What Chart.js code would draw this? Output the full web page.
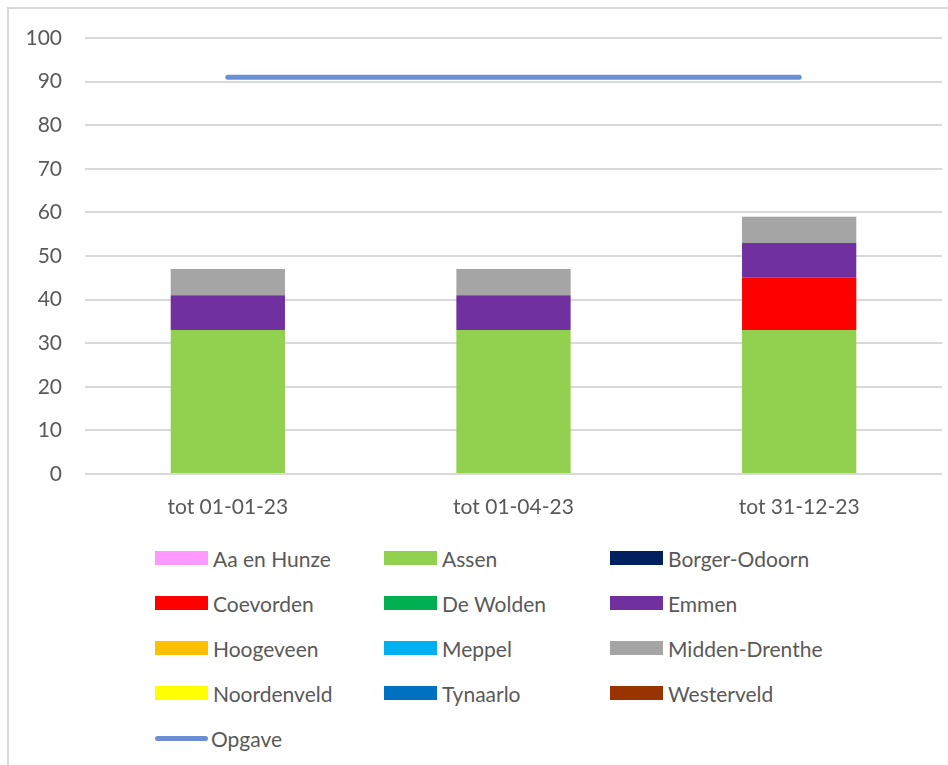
<!DOCTYPE html>
<html lang="nl">
<head>
  <meta charset="UTF-8">
  <title>Opgave per gemeente</title>
  <script src="https://cdn.jsdelivr.net/npm/chart.js"></script>
  <style>
    body { margin: 0; background: #fff; overflow: hidden; }
    .kader { position: absolute; left: 7px; top: 7px; width: 1000px; height: 1000px; border: 2px solid #d9d9d9; }
    #grafiek { position: absolute; left: 0; top: 0; }
    .legenda { position: absolute; left: 0; top: 0; font-family: Lato, sans-serif; font-size: 21px; color: #595959; }
    .item { position: absolute; display: flex; align-items: center; height: 24px; white-space: nowrap; }
    .vak { width: 53px; height: 14px; margin-right: 5px; }
    .lijn { width: 53px; height: 5px; border-radius: 3px; margin-right: 3px; }
  </style>
</head>
<body>
  <div class="kader"></div>
  <canvas id="grafiek" width="948" height="530"></canvas>
  <div class="legenda" id="legenda"></div>

<script>
  // periodes
  const perioden = ['tot 01-01-23', 'tot 01-04-23', 'tot 31-12-23']

  // aantallen per gemeente
  const aaEnHunze = [0, 0, 0]
  const assen = [33, 33, 33]
  const borgerOdoorn = [0, 0, 0]
  const coevorden = [0, 0, 12]
  const deWolden = [0, 0, 0]
  const emmen = [8, 8, 8]
  const hoogeveen = [0, 0, 0]
  const meppel = [0, 0, 0]
  const middenDrenthe = [6, 6, 6]
  const noordenveld = [0, 0, 0]
  const tynaarlo = [0, 0, 0]
  const westerveld = [0, 0, 0]
  const opgave = [91, 91, 91]

  const yTicks = [0, 10, 20, 30, 40, 50, 60, 70, 80, 90, 100]

  const gemeenten = [
    ['Aa en Hunze', aaEnHunze, '#FF99FF'],
    ['Assen', assen, '#92D050'],
    ['Borger-Odoorn', borgerOdoorn, '#002060'],
    ['Coevorden', coevorden, '#FF0000'],
    ['De Wolden', deWolden, '#00B050'],
    ['Emmen', emmen, '#7030A0'],
    ['Hoogeveen', hoogeveen, '#FFC000'],
    ['Meppel', meppel, '#00B0F0'],
    ['Midden-Drenthe', middenDrenthe, '#A5A5A5'],
    ['Noordenveld', noordenveld, '#FFFF00'],
    ['Tynaarlo', tynaarlo, '#0070C0'],
    ['Westerveld', westerveld, '#993300']
  ]

  var datasets = []
  for (var i = 0; i < gemeenten.length; i++) {
    datasets.push({
      type: 'bar',
      label: gemeenten[i][0],
      data: gemeenten[i][1],
      backgroundColor: gemeenten[i][2],
      stack: 'a',
      order: 2,
      categoryPercentage: 1,
      barPercentage: 0.4
    })
  }
  datasets.push({
    type: 'line',
    label: 'Opgave',
    data: opgave,
    borderColor: '#6A8FD5',
    borderWidth: 5,
    borderCapStyle: 'round',
    pointRadius: 0,
    order: 1
  })

  const tekst = '#595959'
  const lettertype = { family: 'Lato', size: 21 }

  let grafiek = new Chart(document.getElementById('grafiek'), {
    data: { labels: perioden, datasets: datasets },
    options: {
      responsive: false,
      animation: false,
      devicePixelRatio: 1,
      layout: { padding: { left: 10, right: 6, top: 38, bottom: 10 } },
      plugins: { legend: { display: false }, tooltip: { enabled: false } },
      scales: {
        x: {
          stacked: true,
          grid: { display: false, drawTicks: false },
          border: { display: false },
          ticks: { color: tekst, font: lettertype, padding: 21 },
          afterFit: function (s) { s.height = 46 }
        },
        y: {
          stacked: true,
          min: 0,
          max: 100,
          grid: { color: '#d9d9d9', lineWidth: 2, drawTicks: false },
          border: { display: false },
          afterBuildTicks: function (s) { s.ticks = yTicks.map(v => ({ value: v })) },
          ticks: { color: tekst, font: lettertype, padding: 23 },
          afterFit: function (s) { s.width = 75 }
        }
      }
    }
  })

  // legenda in drie kolommen
  const kolomX = [155, 384, 610]
  const legenda = document.getElementById('legenda')
  grafiek.data.datasets.forEach(function (ds, i) {
    var item = document.createElement('div')
    item.className = 'item'
    item.style.left = kolomX[i % 3] + 'px'
    item.style.top = (546 + Math.floor(i / 3) * 45) + 'px'
    var merk = document.createElement('span')
    if (ds.type === 'line') {
      merk.className = 'lijn'
      merk.style.background = ds.borderColor
    } else {
      merk.className = 'vak'
      merk.style.background = ds.backgroundColor
    }
    item.appendChild(merk)
    item.appendChild(document.createTextNode(ds.label))
    legenda.appendChild(item)
  })
</script>
</body>
</html>
